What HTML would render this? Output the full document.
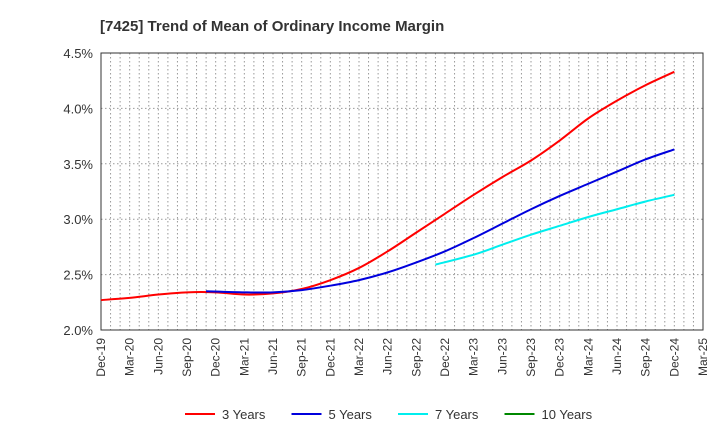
<!DOCTYPE html>
<html><head><meta charset="utf-8"><style>
body{margin:0;background:#fff;font-family:"Liberation Sans",Arial,sans-serif}
svg text{font-family:"Liberation Sans",Arial,sans-serif}
</style></head><body>
<svg id="c" width="720" height="440" xmlns="http://www.w3.org/2000/svg">
<text x="100" y="31" font-size="15" font-weight="bold" fill="#333">[7425]  Trend of Mean of Ordinary Income Margin</text>
<g id="grid"></g><g id="axes"></g><g id="series"></g><g id="legend"></g>
</svg>
<script>
const xLabels=["Dec-19","Mar-20","Jun-20","Sep-20","Dec-20","Mar-21","Jun-21","Sep-21","Dec-21","Mar-22","Jun-22","Sep-22","Dec-22","Mar-23","Jun-23","Sep-23","Dec-23","Mar-24","Jun-24","Sep-24","Dec-24","Mar-25"];
const yTicks=[2.0,2.5,3.0,3.5,4.0,4.5];
const s3=[2.27,2.29,2.32,2.34,2.34,2.32,2.33,2.37,2.45,2.56,2.71,2.88,3.05,3.22,3.38,3.53,3.71,3.91,4.07,4.21,4.33];
const s3start=0;
const s5=[2.35,2.34,2.34,2.36,2.40,2.45,2.52,2.61,2.71,2.83,2.96,3.09,3.21,3.32,3.43,3.54,3.63];
const s5start=4;
const s7=[2.59,2.68,2.77,2.86,2.94,3.02,3.09,3.16,3.22];
const s7start=12;
const s10=[];
const s10start=0;
const L=101,R=703,T=53,B=330;
const ns="http://www.w3.org/2000/svg";
const X=q=>L+(R-L)*q/(xLabels.length-1);
const Y=v=>B-(B-T)*(v-2.0)/(2.5);
function mk(tag,at,parent){const e=document.createElementNS(ns,tag);for(const k in at)e.setAttribute(k,at[k]);parent.appendChild(e);return e;}
const g=document.getElementById('grid'),ax=document.getElementById('axes'),se=document.getElementById('series'),lg=document.getElementById('legend');
const months=(xLabels.length-1)*3;
for(let m=1;m<months;m++){const x=L+(R-L)*m/months;
const l=mk('line',{x1:x,x2:x,y1:T,y2:B,stroke:'#999','stroke-dasharray':'1.5,2.5','stroke-width':1},g);

}
yTicks.forEach(v=>{const y=Y(v);
const l=mk('line',{x1:L,x2:R,y1:y,y2:y,stroke:'#999','stroke-dasharray':'1.5,2.5'},g);


const t=mk('text',{x:L-8,y:y+5,'text-anchor':'end','font-size':13,fill:'#333'},ax);t.textContent=v.toFixed(1)+'%';

});
const box=mk('rect',{x:L,y:T,width:R-L,height:B-T,fill:'none',stroke:'#333','stroke-width':1},ax);


xLabels.forEach((lab,i)=>{const x=X(i);
const t=mk('text',{x:0,y:0,transform:`translate(${x+4},${B+8}) rotate(-90)`,'text-anchor':'end','font-size':12,fill:'#333'},ax);t.textContent=lab;

});
const OFF=-1/3; /* later series begin one month before the quarter label */
function path(vals,start,off){if(vals.length<2)return'';const p=vals.map((v,i)=>[X(start+i+(i===0?off:0)),Y(v)]);let d=`M${p[0][0]},${p[0][1]}`;
for(let i=0;i<p.length-1;i++){const p0=p[i-1]||p[i],p1=p[i],p2=p[i+1],p3=p[i+2]||p2;
d+=` C${p1[0]+(p2[0]-p0[0])/6},${p1[1]+(p2[1]-p0[1])/6} ${p2[0]-(p3[0]-p1[0])/6},${p2[1]-(p3[1]-p1[1])/6} ${p2[0]},${p2[1]}`;}return d;}
const series=[[s3,s3start,'#ff0000','3 Years','series-3-years',0],[s5,s5start,'#0000dd','5 Years','series-5-years',OFF],[s7,s7start,'#00eeee','7 Years','series-7-years',OFF],[s10,s10start,'#008800','10 Years','series-10-years',0]];
series.forEach((s,i)=>{if(s[0].length>1){const p=mk('path',{d:path(s[0],s[1],s[5]),fill:'none',stroke:s[2],'stroke-width':2},se);

}
const lx=185+i*106.5;
const ll=mk('line',{x1:lx,x2:lx+30,y1:414,y2:414,stroke:s[2],'stroke-width':2},lg);


const t=mk('text',{x:lx+37,y:419,'font-size':13,fill:'#333'},lg);t.textContent=s[3];

});
</script>
</body></html>
